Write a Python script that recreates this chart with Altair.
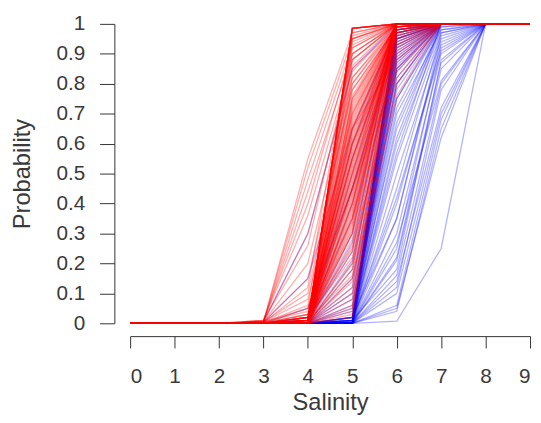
import altair as alt
import pandas as pd

salinity = [0, 1, 2, 3, 4, 5, 6, 7, 8, 9]

# Red curves: probability at salinity 0..9
red_lines = [
    [0, 0, 0, 0, 0, 0.985, 1, 1, 1, 1],
    [0, 0, 0, 0, 0, 0.985, 1, 1, 1, 1],
    [0, 0, 0, 0, 0, 0.985, 1, 1, 1, 1],
    [0, 0, 0, 0, 0, 0.985, 1, 1, 1, 1],
    [0, 0, 0, 0, 0, 0.985, 1, 1, 1, 1],
    [0, 0, 0, 0, 0, 0.985, 1, 1, 1, 1],
    [0, 0, 0, 0, 0, 0.985, 1, 1, 1, 1],
    [0, 0, 0, 0, 0, 0.985, 1, 1, 1, 1],
    [0, 0, 0, 0.005, 0.55, 0.97, 1, 1, 1, 1],
    [0, 0, 0, 0.005, 0.52, 0.95, 1, 1, 1, 1],
    [0, 0, 0, 0.005, 0.48, 0.93, 1, 1, 1, 1],
    [0, 0, 0, 0.005, 0.44, 0.90, 1, 1, 1, 1],
    [0, 0, 0, 0.01, 0.40, 0.92, 1, 1, 1, 1],
    [0, 0, 0, 0.01, 0.36, 0.88, 1, 1, 1, 1],
    [0, 0, 0, 0.005, 0.30, 0.85, 0.99, 1, 1, 1],
    [0, 0, 0, 0.01, 0.26, 0.90, 1, 1, 1, 1],
    [0, 0, 0, 0.005, 0.20, 0.82, 0.99, 1, 1, 1],
    [0, 0, 0, 0.005, 0.15, 0.78, 0.99, 1, 1, 1],
    [0, 0, 0, 0.005, 0.10, 0.80, 0.99, 1, 1, 1],
    [0, 0, 0, 0.005, 0.08, 0.70, 0.98, 1, 1, 1],
    [0, 0, 0, 0.005, 0.05, 0.65, 0.98, 1, 1, 1],
    [0, 0, 0, 0.005, 0.04, 0.60, 0.97, 1, 1, 1],
    [0, 0, 0, 0.002, 0.03, 0.55, 0.97, 1, 1, 1],
    [0, 0, 0, 0.002, 0.02, 0.75, 0.99, 1, 1, 1],
    [0, 0, 0, 0.002, 0.12, 0.95, 1, 1, 1, 1],
    [0, 0, 0, 0.002, 0.06, 0.88, 1, 1, 1, 1],
    [0, 0, 0, 0, 0.00, 0.97, 1, 1, 1, 1],
    [0, 0, 0, 0, 0.01, 0.96, 1, 1, 1, 1],
    [0, 0, 0, 0, 0.00, 0.95, 1, 1, 1, 1],
    [0, 0, 0, 0, 0.02, 0.94, 1, 1, 1, 1],
    [0, 0, 0, 0, 0.00, 0.92, 1, 1, 1, 1],
    [0, 0, 0, 0, 0.01, 0.90, 1, 1, 1, 1],
    [0, 0, 0, 0, 0.00, 0.88, 1, 1, 1, 1],
    [0, 0, 0, 0, 0.02, 0.86, 1, 1, 1, 1],
    [0, 0, 0, 0, 0.00, 0.84, 1, 1, 1, 1],
    [0, 0, 0, 0, 0.01, 0.82, 1, 1, 1, 1],
    [0, 0, 0, 0, 0.00, 0.80, 1, 1, 1, 1],
    [0, 0, 0, 0, 0.03, 0.78, 0.99, 1, 1, 1],
    [0, 0, 0, 0, 0.00, 0.76, 1, 1, 1, 1],
    [0, 0, 0, 0, 0.01, 0.75, 1, 1, 1, 1],
    [0, 0, 0, 0, 0.00, 0.74, 1, 1, 1, 1],
    [0, 0, 0, 0, 0.00, 0.73, 1, 1, 1, 1],
    [0, 0, 0, 0, 0.00, 0.72, 1, 1, 1, 1],
    [0, 0, 0, 0, 0.01, 0.71, 1, 1, 1, 1],
    [0, 0, 0, 0, 0.02, 0.70, 1, 1, 1, 1],
    [0, 0, 0, 0, 0.00, 0.69, 1, 1, 1, 1],
    [0, 0, 0, 0, 0.00, 0.68, 1, 1, 1, 1],
    [0, 0, 0, 0, 0.00, 0.67, 1, 1, 1, 1],
    [0, 0, 0, 0, 0.01, 0.66, 0.99, 1, 1, 1],
    [0, 0, 0, 0, 0.00, 0.65, 1, 1, 1, 1],
    [0, 0, 0, 0, 0.00, 0.64, 1, 1, 1, 1],
    [0, 0, 0, 0, 0.00, 0.63, 1, 1, 1, 1],
    [0, 0, 0, 0, 0.00, 0.62, 1, 1, 1, 1],
    [0, 0, 0, 0, 0.01, 0.61, 1, 1, 1, 1],
    [0, 0, 0, 0, 0.01, 0.60, 1, 1, 1, 1],
    [0, 0, 0, 0, 0.00, 0.59, 1, 1, 1, 1],
    [0, 0, 0, 0, 0.00, 0.58, 1, 1, 1, 1],
    [0, 0, 0, 0, 0.00, 0.57, 1, 1, 1, 1],
    [0, 0, 0, 0, 0.00, 0.56, 1, 1, 1, 1],
    [0, 0, 0, 0, 0.02, 0.55, 1, 1, 1, 1],
    [0, 0, 0, 0, 0.00, 0.54, 1, 1, 1, 1],
    [0, 0, 0, 0, 0.00, 0.53, 1, 1, 1, 1],
    [0, 0, 0, 0, 0.00, 0.52, 1, 1, 1, 1],
    [0, 0, 0, 0, 0.01, 0.51, 1, 1, 1, 1],
    [0, 0, 0, 0, 0.00, 0.50, 1, 1, 1, 1],
    [0, 0, 0, 0, 0.00, 0.49, 1, 1, 1, 1],
    [0, 0, 0, 0, 0.00, 0.48, 1, 1, 1, 1],
    [0, 0, 0, 0, 0.01, 0.47, 1, 1, 1, 1],
    [0, 0, 0, 0, 0.00, 0.46, 1, 1, 1, 1],
    [0, 0, 0, 0, 0.00, 0.45, 1, 1, 1, 1],
    [0, 0, 0, 0, 0.00, 0.44, 1, 1, 1, 1],
    [0, 0, 0, 0, 0.02, 0.43, 1, 1, 1, 1],
    [0, 0, 0, 0, 0.00, 0.42, 1, 1, 1, 1],
    [0, 0, 0, 0, 0.00, 0.41, 1, 1, 1, 1],
    [0, 0, 0, 0, 0.00, 0.40, 1, 1, 1, 1],
    [0, 0, 0, 0, 0.00, 0.39, 1, 1, 1, 1],
    [0, 0, 0, 0, 0.01, 0.38, 1, 1, 1, 1],
    [0, 0, 0, 0, 0.00, 0.37, 1, 1, 1, 1],
    [0, 0, 0, 0, 0.00, 0.36, 1, 1, 1, 1],
    [0, 0, 0, 0, 0.00, 0.35, 1, 1, 1, 1],
    [0, 0, 0, 0, 0.00, 0.34, 1, 1, 1, 1],
    [0, 0, 0, 0, 0.00, 0.33, 1, 1, 1, 1],
    [0, 0, 0, 0, 0.00, 0.32, 0.99, 1, 1, 1],
    [0, 0, 0, 0, 0.01, 0.31, 1, 1, 1, 1],
    [0, 0, 0, 0, 0.01, 0.30, 1, 1, 1, 1],
    [0, 0, 0, 0, 0.00, 0.28, 1, 1, 1, 1],
    [0, 0, 0, 0, 0.00, 0.26, 0.98, 1, 1, 1],
    [0, 0, 0, 0, 0.00, 0.24, 1, 1, 1, 1],
    [0, 0, 0, 0, 0.02, 0.22, 0.97, 1, 1, 1],
    [0, 0, 0, 0, 0.00, 0.20, 1, 1, 1, 1],
    [0, 0, 0, 0, 0.00, 0.18, 0.96, 1, 1, 1],
    [0, 0, 0, 0, 0.01, 0.16, 1, 1, 1, 1],
    [0, 0, 0, 0, 0.00, 0.14, 0.95, 1, 1, 1],
    [0, 0, 0, 0, 0.00, 0.12, 1, 1, 1, 1],
    [0, 0, 0, 0, 0.00, 0.10, 0.93, 1, 1, 1],
    [0, 0, 0, 0, 0.00, 0.08, 0.98, 1, 1, 1],
    [0, 0, 0, 0, 0.00, 0.06, 0.90, 1, 1, 1],
    [0, 0, 0, 0, 0.00, 0.05, 1, 1, 1, 1],
    [0, 0, 0, 0, 0.00, 0.04, 0.85, 1, 1, 1],
    [0, 0, 0, 0, 0.00, 0.03, 0.95, 1, 1, 1],
    [0, 0, 0, 0, 0.00, 0.02, 0.80, 1, 1, 1],
    [0, 0, 0, 0, 0.03, 0.35, 0.88, 1, 1, 1],
    [0, 0, 0, 0, 0.05, 0.45, 0.92, 1, 1, 1],
    [0, 0, 0, 0, 0.00, 0.15, 0.76, 1, 1, 1],
    [0, 0, 0, 0, 0.02, 0.25, 0.82, 1, 1, 1],
    [0, 0, 0, 0, 0.00, 0.40, 0.97, 1, 1, 1],
    [0, 0, 0, 0, 0.00, 0.55, 0.96, 1, 1, 1],
    [0, 0, 0, 0, 0.00, 0.50, 0.94, 1, 1, 1],
    [0, 0, 0, 0, 0.01, 0.60, 0.93, 1, 1, 1],
    [0, 0, 0, 0, 0.00, 0.30, 0.91, 1, 1, 1],
    [0, 0, 0, 0, 0.00, 0.65, 0.89, 1, 1, 1],
    [0, 0, 0, 0, 0.00, 0.20, 0.87, 1, 1, 1],
    [0, 0, 0, 0, 0.00, 0.45, 0.84, 1, 1, 1],
]

# Blue curves: probability at salinity 0..9
blue_lines = [
    [0, 0, 0, 0.005, 0.30, 0.85, 1, 1, 1, 1],
    [0, 0, 0, 0.003, 0.15, 0.65, 0.98, 1, 1, 1],
    [0, 0, 0, 0, 0.05, 0.45, 0.95, 1, 1, 1],
    [0, 0, 0, 0, 0.02, 0.60, 1, 1, 1, 1],
    [0, 0, 0, 0, 0.01, 0.55, 0.98, 1, 1, 1],
    [0, 0, 0, 0, 0.00, 0.50, 1, 1, 1, 1],
    [0, 0, 0, 0, 0.02, 0.45, 0.97, 1, 1, 1],
    [0, 0, 0, 0, 0.00, 0.40, 0.99, 1, 1, 1],
    [0, 0, 0, 0, 0.01, 0.35, 0.95, 1, 1, 1],
    [0, 0, 0, 0, 0.00, 0.30, 1, 1, 1, 1],
    [0, 0, 0, 0, 0.00, 0.27, 0.93, 1, 1, 1],
    [0, 0, 0, 0, 0.01, 0.24, 0.98, 1, 1, 1],
    [0, 0, 0, 0, 0.00, 0.21, 0.90, 1, 1, 1],
    [0, 0, 0, 0, 0.00, 0.18, 0.96, 1, 1, 1],
    [0, 0, 0, 0, 0.00, 0.15, 0.88, 1, 1, 1],
    [0, 0, 0, 0, 0.00, 0.12, 0.94, 1, 1, 1],
    [0, 0, 0, 0, 0.00, 0.10, 0.85, 1, 1, 1],
    [0, 0, 0, 0, 0.00, 0.08, 0.92, 1, 1, 1],
    [0, 0, 0, 0, 0.00, 0.06, 0.80, 1, 1, 1],
    [0, 0, 0, 0, 0.00, 0.05, 0.97, 1, 1, 1],
    [0, 0, 0, 0, 0.00, 0.04, 0.75, 1, 1, 1],
    [0, 0, 0, 0, 0, 0.00, 1, 1, 1, 1],
    [0, 0, 0, 0, 0, 0.005, 1, 1, 1, 1],
    [0, 0, 0, 0, 0, 0.01, 0.99, 1, 1, 1],
    [0, 0, 0, 0, 0, 0.00, 0.99, 1, 1, 1],
    [0, 0, 0, 0, 0, 0.02, 0.98, 1, 1, 1],
    [0, 0, 0, 0, 0, 0.00, 0.98, 1, 1, 1],
    [0, 0, 0, 0, 0, 0.005, 0.97, 1, 1, 1],
    [0, 0, 0, 0, 0, 0.01, 0.97, 1, 1, 1],
    [0, 0, 0, 0, 0, 0.00, 0.96, 1, 1, 1],
    [0, 0, 0, 0, 0, 0.02, 0.95, 1, 1, 1],
    [0, 0, 0, 0, 0, 0.00, 0.95, 1, 1, 1],
    [0, 0, 0, 0, 0, 0.005, 0.94, 1, 1, 1],
    [0, 0, 0, 0, 0, 0.00, 0.93, 1, 1, 1],
    [0, 0, 0, 0, 0, 0.01, 0.92, 1, 1, 1],
    [0, 0, 0, 0, 0, 0.00, 0.91, 1, 1, 1],
    [0, 0, 0, 0, 0, 0.00, 0.90, 1, 1, 1],
    [0, 0, 0, 0, 0, 0.02, 0.89, 1, 1, 1],
    [0, 0, 0, 0, 0, 0.00, 0.88, 1, 1, 1],
    [0, 0, 0, 0, 0, 0.005, 0.87, 1, 1, 1],
    [0, 0, 0, 0, 0, 0.00, 0.86, 1, 1, 1],
    [0, 0, 0, 0, 0, 0.01, 0.85, 1, 1, 1],
    [0, 0, 0, 0, 0, 0.00, 0.84, 1, 1, 1],
    [0, 0, 0, 0, 0, 0.00, 0.82, 1, 1, 1],
    [0, 0, 0, 0, 0, 0.02, 0.80, 1, 1, 1],
    [0, 0, 0, 0, 0, 0.00, 0.78, 1, 1, 1],
    [0, 0, 0, 0, 0, 0.00, 0.75, 0.99, 1, 1],
    [0, 0, 0, 0, 0, 0.01, 0.72, 1, 1, 1],
    [0, 0, 0, 0, 0, 0.00, 0.70, 0.98, 1, 1],
    [0, 0, 0, 0, 0, 0.00, 0.67, 1, 1, 1],
    [0, 0, 0, 0, 0, 0.02, 0.65, 0.99, 1, 1],
    [0, 0, 0, 0, 0, 0.00, 0.62, 1, 1, 1],
    [0, 0, 0, 0, 0, 0.00, 0.60, 0.98, 1, 1],
    [0, 0, 0, 0, 0, 0.01, 0.57, 1, 1, 1],
    [0, 0, 0, 0, 0, 0.00, 0.55, 0.97, 1, 1],
    [0, 0, 0, 0, 0, 0.00, 0.50, 0.95, 1, 1],
    [0, 0, 0, 0, 0, 0.00, 0.45, 0.97, 1, 1],
    [0, 0, 0, 0, 0, 0.00, 0.40, 0.93, 1, 1],
    [0, 0, 0, 0, 0, 0.02, 0.35, 0.96, 1, 1],
    [0, 0, 0, 0, 0, 0.00, 0.30, 0.90, 1, 1],
    [0, 0, 0, 0, 0, 0.00, 0.25, 0.92, 1, 1],
    [0, 0, 0, 0, 0, 0.00, 0.21, 0.85, 1, 1],
    [0, 0, 0, 0, 0, 0.01, 0.18, 0.88, 1, 1],
    [0, 0, 0, 0, 0, 0.00, 0.16, 0.80, 1, 1],
    [0, 0, 0, 0, 0, 0.00, 0.14, 0.72, 1, 1],
    [0, 0, 0, 0, 0, 0.00, 0.10, 0.70, 1, 1],
    [0, 0, 0, 0, 0, 0.00, 0.06, 0.68, 1, 1],
    [0, 0, 0, 0, 0, 0.00, 0.04, 0.65, 1, 1],
    [0, 0, 0, 0, 0, 0.00, 0.05, 0.62, 1, 1],
    [0, 0, 0, 0, 0, 0.00, 0.27, 0.81, 1, 1],
    [0, 0, 0, 0, 0, 0.00, 0.007, 0.25, 1, 1],
    [0, 0, 0, 0, 0, 0.00, 0.35, 0.94, 1, 1],
    [0, 0, 0, 0, 0, 0.01, 0.42, 0.91, 1, 1],
    [0, 0, 0, 0, 0, 0.00, 0.22, 0.87, 1, 1],
    [0, 0, 0, 0, 0, 0.00, 0.12, 0.78, 1, 1],
]

y_ticks = [0, 0.1, 0.2, 0.3, 0.4, 0.5, 0.6, 0.7, 0.8, 0.9, 1]


def to_frame(lines, group):
    rows = []
    for i, vals in enumerate(lines):
        for s, p in zip(salinity, vals):
            rows.append({"Salinity": s, "Probability": p, "line": f"{group}{i}"})
    return pd.DataFrame(rows)


FONT = "Liberation Sans"

x_enc = alt.X(
    "Salinity:Q",
    scale=alt.Scale(domain=[0, 9], nice=False, zero=False),
    axis=alt.Axis(
        values=salinity, title="Salinity", offset=13, tickSize=12,
        labelPadding=18, titleY=74, titleBaseline="alphabetic", grid=False,
        labelFontSize=21, titleFontSize=24, labelFont=FONT, titleFont=FONT,
        labelFontWeight="normal", titleFontWeight="normal",
        domainColor="#333333", tickColor="#333333",
        labelColor="#3a3a3a", titleColor="#3a3a3a",
    ),
)
y_enc = alt.Y(
    "Probability:Q",
    scale=alt.Scale(domain=[0, 1], nice=False),
    axis=alt.Axis(
        values=y_ticks, format="~g", title="Probability", offset=16,
        tickSize=15, labelPadding=15, titlePadding=22, grid=False,
        labelFontSize=21, titleFontSize=24, labelFont=FONT, titleFont=FONT,
        labelFontWeight="normal", titleFontWeight="normal",
        domainColor="#333333", tickColor="#333333",
        labelColor="#3a3a3a", titleColor="#3a3a3a",
    ),
)

blue = alt.Chart(to_frame(blue_lines, "b")).mark_line(
    color="#0000FF", strokeWidth=1.3, opacity=0.3
).encode(x=x_enc, y=y_enc, detail="line:N")

red = alt.Chart(to_frame(red_lines, "r")).mark_line(
    color="#FF0000", strokeWidth=1.3, opacity=0.32
).encode(x=x_enc, y=y_enc, detail="line:N")

chart = alt.layer(blue, red).properties(
    width=406,
    height=304,
    padding={"left": 124, "top": 13, "right": 3, "bottom": 93},
    autosize=alt.AutoSizeParams(type="none"),
    background="white",
).configure_view(stroke=None)

chart.save("out.html", embed_options={"renderer": "svg", "actions": False})
